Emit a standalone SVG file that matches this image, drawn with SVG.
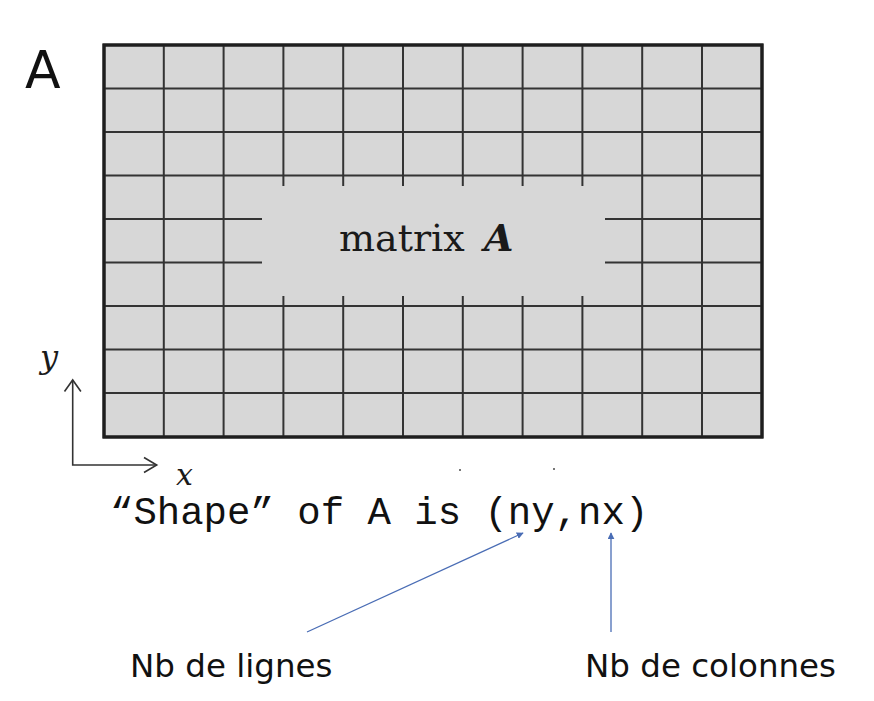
<svg xmlns="http://www.w3.org/2000/svg" width="874" height="701" viewBox="0 0 874 701">
<style>
.grid line{stroke:#333;stroke-width:2}
.outer{fill:#d7d7d7;stroke:#1e1e1e;stroke-width:3}
.axis{stroke:#333;stroke-width:1.6;fill:none}
.conn{stroke:#4a6db5;stroke-width:1.3;fill:none}
.sans{font-family:"DejaVu Sans","Liberation Sans",sans-serif;fill:#111}
.serif{font-family:"DejaVu Serif","Liberation Serif",serif;fill:#1a1a1a}
.mono{font-family:"Liberation Mono","DejaVu Sans Mono",monospace;fill:#111}
</style>
<defs>
<marker id="ah" viewBox="0 0 10 10" refX="9" refY="5" markerWidth="7" markerHeight="7" markerUnits="userSpaceOnUse" orient="auto">
<path d="M0,0 L10,5 L0,10 z" fill="#4a6db5"/>
</marker>
</defs>
<rect width="874" height="701" fill="#fff"/>
<g id="label-A"><text class="sans" x="25" y="88" font-size="52">A</text></g>
<g id="matrix">
<rect class="outer" x="104" y="45" width="658" height="392"/>
<g class="grid">
<line x1="163.8" y1="45" x2="163.8" y2="437"/>
<line x1="223.6" y1="45" x2="223.6" y2="437"/>
<line x1="642.2" y1="45" x2="642.2" y2="437"/>
<line x1="702" y1="45" x2="702" y2="437"/>
<line x1="283.4" y1="45" x2="283.4" y2="186"/><line x1="283.4" y1="296" x2="283.4" y2="437"/>
<line x1="343.2" y1="45" x2="343.2" y2="186"/><line x1="343.2" y1="296" x2="343.2" y2="437"/>
<line x1="403" y1="45" x2="403" y2="186"/><line x1="403" y1="296" x2="403" y2="437"/>
<line x1="462.8" y1="45" x2="462.8" y2="186"/><line x1="462.8" y1="296" x2="462.8" y2="437"/>
<line x1="522.6" y1="45" x2="522.6" y2="186"/><line x1="522.6" y1="296" x2="522.6" y2="437"/>
<line x1="582.4" y1="45" x2="582.4" y2="186"/><line x1="582.4" y1="296" x2="582.4" y2="437"/>
<line x1="104" y1="88.5" x2="762" y2="88.5"/>
<line x1="104" y1="132" x2="762" y2="132"/>
<line x1="104" y1="175.5" x2="762" y2="175.5"/>
<line x1="104" y1="306" x2="762" y2="306"/>
<line x1="104" y1="349.5" x2="762" y2="349.5"/>
<line x1="104" y1="393" x2="762" y2="393"/>
<line x1="104" y1="219" x2="262" y2="219"/><line x1="605" y1="219" x2="762" y2="219"/>
<line x1="104" y1="262.5" x2="262" y2="262.5"/><line x1="605" y1="262.5" x2="762" y2="262.5"/>
</g>
<rect x="104" y="45" width="658" height="392" fill="none" stroke="#1e1e1e" stroke-width="3"/>
<text class="serif" x="339" y="251" font-size="38">matrix</text>
<text class="serif" x="484" y="251" font-size="38" font-weight="bold" font-style="italic">A</text>
</g>
<g id="axes">
<path class="axis" d="M72.7,380 V465 H156.7"/>
<path class="axis" d="M64.5,391.5 L72.7,380 L80.9,391.5"/>
<path class="axis" d="M144,457.5 L156.7,465 L144,472.5"/>
<text class="serif" x="40" y="368" font-size="32" font-style="italic">y</text>
<text class="serif" x="176" y="485" font-size="30" font-style="italic">x</text>
</g>
<g id="shape-text">
<text class="mono" x="110" y="524" font-size="39">“Shape” of A is (ny,nx)</text>
<rect x="459" y="469" width="2" height="2" fill="#777"/>
<rect x="553" y="468" width="2" height="2" fill="#777"/>
</g>
<g id="connectors">
<line class="conn" x1="307" y1="632" x2="523" y2="533" marker-end="url(#ah)"/>
<line class="conn" x1="611" y1="632" x2="611" y2="533" marker-end="url(#ah)"/>
</g>
<g id="label-lignes"><text class="sans" x="130" y="677" font-size="32.5">Nb de lignes</text></g>
<g id="label-colonnes"><text class="sans" x="585" y="677" font-size="32.5">Nb de colonnes</text></g>
</svg>
